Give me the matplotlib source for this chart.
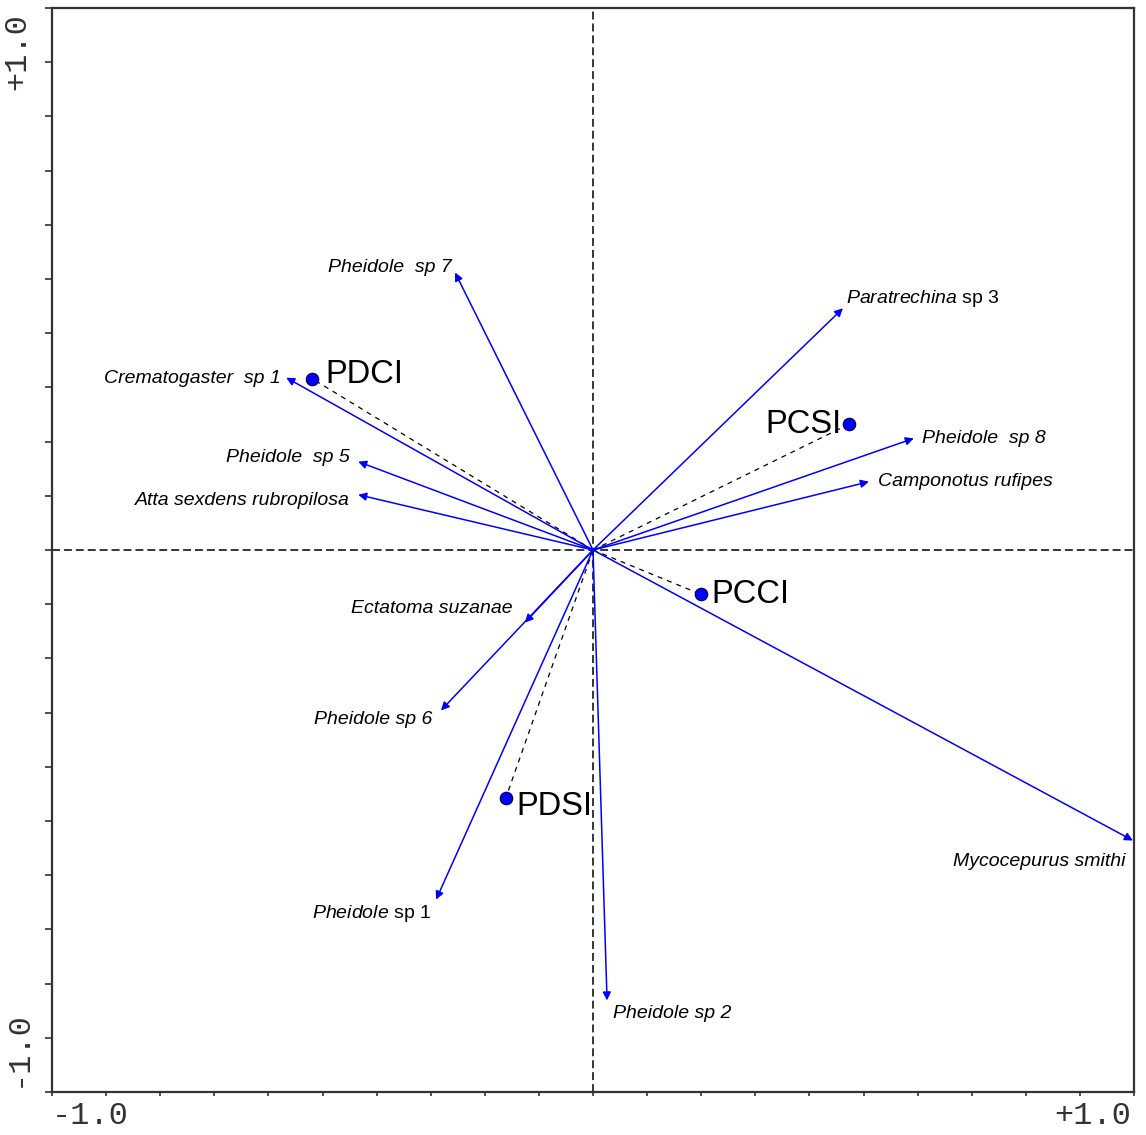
import numpy as np
import matplotlib
matplotlib.use("Agg")
from matplotlib import pyplot as plt

plt.rcParams['font.family'] = ['Liberation Sans', 'DejaVu Sans']
plt.rcParams['mathtext.fontset'] = 'custom'
plt.rcParams['mathtext.rm'] = 'Liberation Sans'
plt.rcParams['mathtext.it'] = 'Liberation Sans:italic'

# species arrows (biplot scores)
species = ["Pheidole  sp 7", "Crematogaster  sp 1", "Pheidole  sp 5",
           "Atta sexdens rubropilosa", r"$\it{Paratrechina}$ sp 3",
           "Pheidole  sp 8", "Camponotus rufipes", "Mycocepurus smithi",
           "Ectatoma suzanae", "Pheidole sp 6", r"$\it{Pheidole}$ sp 1",
           "Pheidole sp 2"]
species_x = [-0.255, -0.567, -0.434, -0.434, 0.462, 0.593, 0.510, 0.998,
             -0.126, -0.281, -0.290, 0.026]
species_y = [0.512, 0.318, 0.163, 0.102, 0.446, 0.206, 0.126, -0.536,
             -0.134, -0.296, -0.645, -0.831]

# sample points
samples = ["PDCI", "PCSI", "PCCI", "PDSI"]
samples_x = [-0.519, 0.473, 0.200, -0.161]
samples_y = [0.316, 0.232, -0.082, -0.457]

# label placement (pixel offsets from arrow tip / point, alignment)
sp_offsets = [(-3, 5, 'right'), (-6, -1, 'right'), (-8, 4, 'right'),
              (-8, -6, 'right'), (3, 10, 'left'), (8, 0, 'left'),
              (9, 0, 'left'), (-180, -21, 'left'), (-12, 14, 'right'),
              (-9, -9, 'right'), (-5, -14, 'right'), (6, -13, 'left')]
sa_offsets = [(13, 4, 'left'), (-7, 0, 'right'), (10, 0, 'left'),
              (10, -9, 'left')]

fig = plt.figure(figsize=(11.46, 11.35), dpi=100)
ax = fig.add_axes([52 / 1146, 43 / 1135, 1082 / 1146, 1084 / 1135])
ax.set_xlim(-1, 1)
ax.set_ylim(-1, 1)

ax.axhline(0, color='black', lw=1.1, dashes=(5.2, 2.6), zorder=1)
ax.axvline(0, color='black', lw=1.1, dashes=(5.2, 2.6), zorder=1)

for x, y in zip(samples_x, samples_y):
    ax.plot([0, x], [0, y], color='black', lw=0.9, dashes=(4, 4), zorder=2)

for name, x, y, (dx, dy, ha) in zip(species, species_x, species_y, sp_offsets):
    ax.annotate('', xy=(x, y), xytext=(0, 0),
                arrowprops=dict(arrowstyle='-|>', color='#0000ff', lw=1.1,
                                mutation_scale=12, shrinkA=0, shrinkB=0),
                zorder=3)
    style = 'normal' if name.startswith('$') else 'italic'
    ax.annotate(name, xy=(x, y), xytext=(dx * 0.72, dy * 0.72),
                textcoords='offset points', ha=ha, va='center',
                fontsize=14, style=style, color='black',
                annotation_clip=False, clip_on=True, zorder=4)

ax.plot(samples_x, samples_y, 'o', color='#0000ff', mec='#000040', mew=0.8,
        ms=9, zorder=5)
for name, x, y, (dx, dy, ha) in zip(samples, samples_x, samples_y, sa_offsets):
    ax.annotate(name, xy=(x, y), xytext=(dx * 0.72, dy * 0.72),
                textcoords='offset points', ha=ha, va='center',
                fontsize=23.5, color='black', zorder=6)

for s in ax.spines.values():
    s.set_color('#333333')
    s.set_linewidth(1.6)

ax.set_xticks(np.round(np.arange(-1, 1.01, 0.1), 1))
ax.set_yticks(np.round(np.arange(-1, 1.01, 0.1), 1))
ax.set_xticklabels([])
ax.set_yticklabels([])
ax.tick_params(axis='x', direction='out', length=3, width=1.2, color='#333333')
ax.tick_params(axis='y', direction='out', length=5, width=1.2, color='#333333')

mono = dict(family='Liberation Mono', fontsize=23, color='#333333')
ax.text(0, -0.008, '-1.0', transform=ax.transAxes, ha='left', va='top', **mono)
ax.text(0.997, -0.008, '+1.0', transform=ax.transAxes, ha='right', va='top', **mono)
ax.text(-0.018, 0.995, '+1.0', transform=ax.transAxes, rotation=90,
        ha='right', va='top', **mono)
ax.text(-0.018, 0.005, '-1.0', transform=ax.transAxes, rotation=90,
        ha='right', va='bottom', **mono)

fig.savefig('out.png', dpi=100)
